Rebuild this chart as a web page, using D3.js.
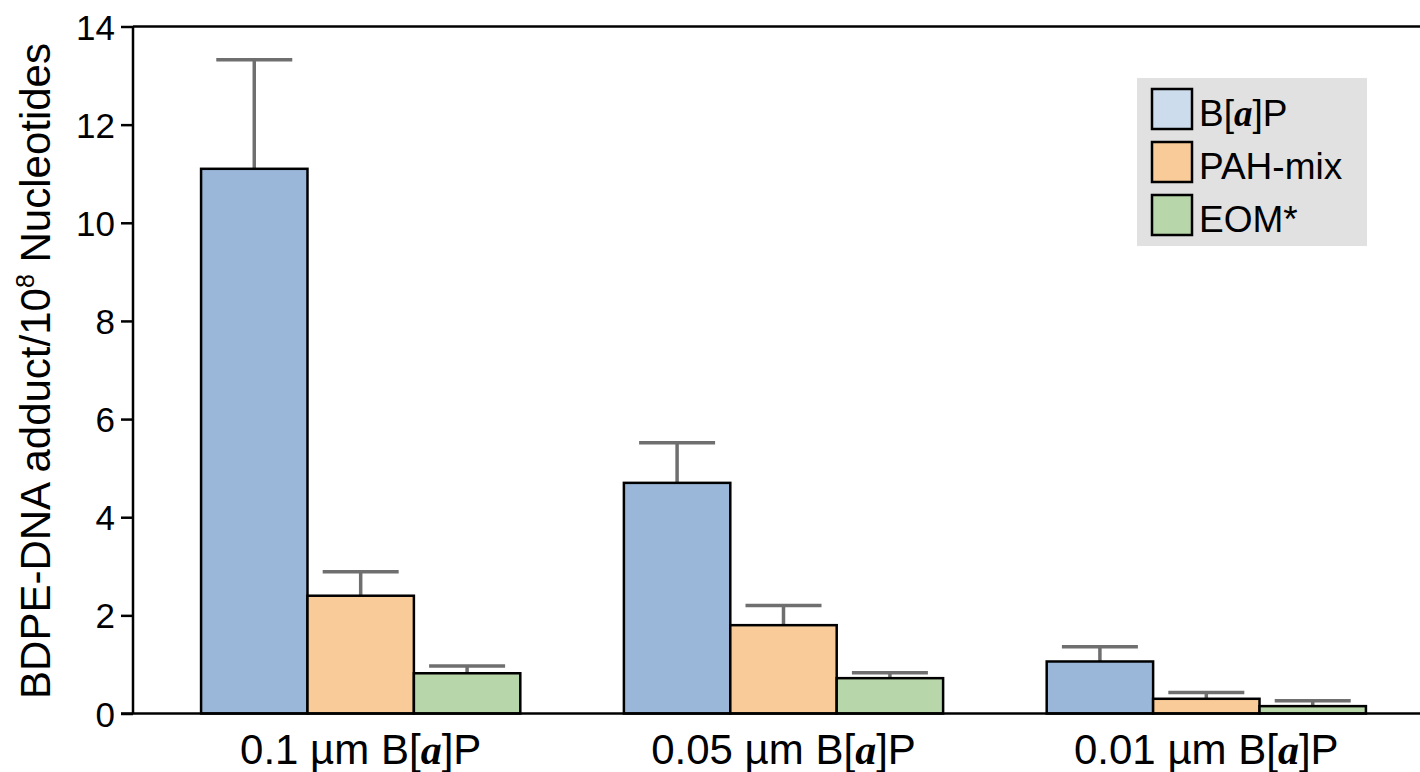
<!DOCTYPE html>
<html><head><meta charset="utf-8">
<script src="https://cdn.jsdelivr.net/npm/d3@7"></script>
<style>body{margin:0;background:#fff}svg{display:block}text{font-family:"Liberation Sans",Arial,sans-serif;fill:#000}</style>
</head><body><svg id="c" width="1420" height="772"></svg>
<script>
const groups = ["0.1", "0.05", "0.01"];
const seriesNames = ["B[a]P", "PAH-mix", "EOM*"];
const bapValues = [11.1, 4.7, 1.06];
const bapErrors = [2.22, 0.82, 0.30];
const pahValues = [2.4, 1.8, 0.30];
const pahErrors = [0.49, 0.40, 0.13];
const eomValues = [0.82, 0.72, 0.15];
const eomErrors = [0.15, 0.11, 0.11];
const yTicks = [0, 2, 4, 6, 8, 10, 12, 14];

const barColors = ["#9ab7da", "#f8cb98", "#b7d6a9"];
const legendColors = ["#ccdcec", "#f8cb98", "#b7d6a9"];
const values = [bapValues, pahValues, eomValues];
const errors = [bapErrors, pahErrors, eomErrors];

const svg = d3.select("#c");
const x0 = 133, yBase = 713.5, yTop = 26.5;
const y = d3.scaleLinear().domain([0, 14]).range([yBase, yTop]);
const xg = d3.scaleBand().domain(groups).range([x0, 1434]).paddingInner(0.245).paddingOuter(0.161);
const xs = d3.scaleBand().domain(d3.range(3)).range([0, xg.bandwidth()]).padding(0);

svg.append("line").attr("x1", x0).attr("x2", 1420).attr("y1", yTop).attr("y2", yTop)
  .attr("stroke", "#000").attr("stroke-width", 2.5);

const yAxis = svg.append("g").attr("transform", `translate(${x0},0)`)
  .call(d3.axisLeft(y).tickValues(yTicks).tickSize(12).tickPadding(6).tickFormat(d3.format("d")));
yAxis.select(".domain").attr("stroke", "#000").attr("stroke-width", 2.5).attr("d", `M0,${yTop}V${yBase}`);
yAxis.selectAll(".tick line").attr("stroke", "#000").attr("stroke-width", 2.5);
yAxis.selectAll(".tick text").style("font-family", '"Liberation Sans",Arial,sans-serif').style("font-size", "35px").attr("fill", "#000").attr("dy", "0.36em");

groups.forEach((g, gi) => {
  values.forEach((vals, si) => {
    const bx = xg(g) + xs(si), bw = xs.bandwidth();
    const cx = bx + bw / 2;
    const v = vals[gi], e = errors[si][gi];
    svg.append("line").attr("x1", cx).attr("x2", cx).attr("y1", y(v)).attr("y2", y(v + e))
      .attr("stroke", "#6f6f6f").attr("stroke-width", 3.5);
    svg.append("line").attr("x1", cx - 38).attr("x2", cx + 38).attr("y1", y(v + e)).attr("y2", y(v + e))
      .attr("stroke", "#6f6f6f").attr("stroke-width", 3.5);
  });
});
groups.forEach((g, gi) => {
  values.forEach((vals, si) => {
    const bx = xg(g) + xs(si), bw = xs.bandwidth();
    svg.append("rect").attr("x", bx).attr("y", y(vals[gi])).attr("width", bw).attr("height", yBase - y(vals[gi]))
      .attr("fill", barColors[si]).attr("stroke", "#000").attr("stroke-width", 2.5);
  });
});

svg.append("line").attr("x1", x0 - 12).attr("x2", 1420).attr("y1", yBase).attr("y2", yBase)
  .attr("stroke", "#000").attr("stroke-width", 2.5);

groups.forEach(g => {
  const t = svg.append("text").attr("x", xg(g) + xg.bandwidth() / 2).attr("y", 764)
    .attr("text-anchor", "middle").style("font-size", "42px");
  t.append("tspan").text(g + " µm B[");
  t.append("tspan").text("a").style("font-family", '"Liberation Serif","Times New Roman",serif').style("font-style", "italic").style("font-weight", "bold");
  t.append("tspan").text("]P");
});

const yt = svg.append("text").attr("transform", "translate(50,371) rotate(-90)")
  .attr("text-anchor", "middle").style("font-size", "42px");
yt.append("tspan").text("BDPE-DNA adduct/10");
yt.append("tspan").text("8").style("font-size", "25px").attr("dy", "-16");
yt.append("tspan").text(" Nucleotides").attr("dy", "16");

const lg = svg.append("g");
lg.append("rect").attr("x", 1137).attr("y", 78).attr("width", 230).attr("height", 168).attr("fill", "#e1e1e1");
seriesNames.forEach((n, i) => {
  const yy = 89 + i * 53;
  lg.append("rect").attr("x", 1152).attr("y", yy).attr("width", 40).attr("height", 40)
    .attr("fill", legendColors[i]).attr("stroke", "#000").attr("stroke-width", 2.5);
  const t = lg.append("text").attr("x", 1199).attr("y", yy + 37).style("font-size", "37px");
  if (i === 0) {
    t.append("tspan").text("B[");
    t.append("tspan").text("a").style("font-family", '"Liberation Serif","Times New Roman",serif').style("font-style", "italic").style("font-weight", "bold");
    t.append("tspan").text("]P");
  } else t.text(n);
});
</script></body></html>
